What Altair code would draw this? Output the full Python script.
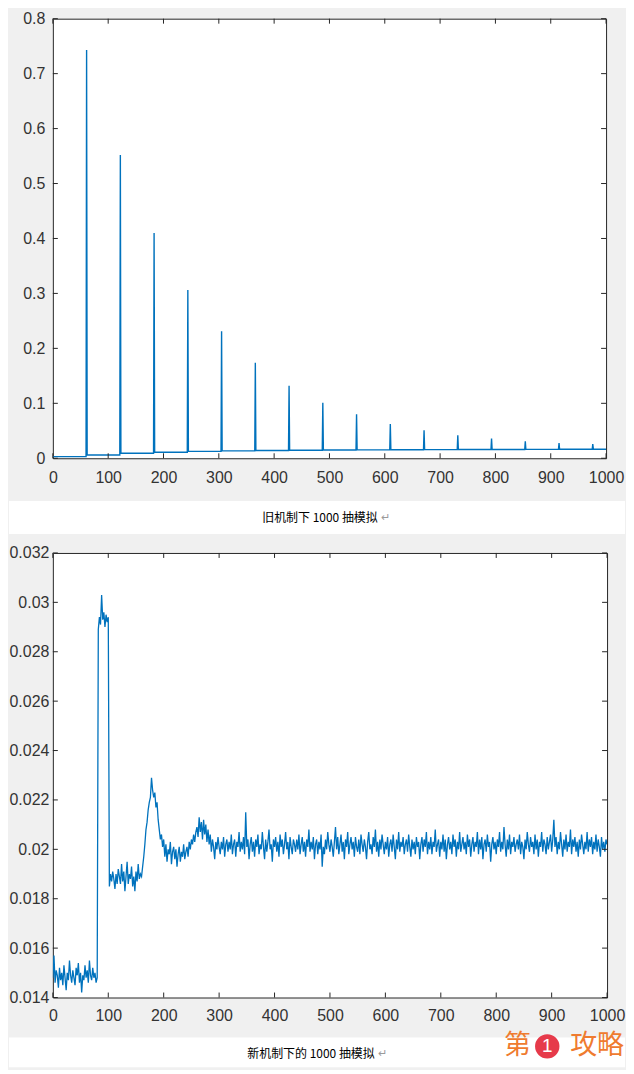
import altair as alt
import pandas as pd

# ---------------- data: old mechanism (top) ----------------
spike_x = [61, 122, 183, 244, 305, 366, 427, 488, 549, 610, 671, 732, 793, 854, 915, 976]
spike_y = [0.743, 0.552, 0.410, 0.306, 0.231, 0.174, 0.132, 0.101, 0.080, 0.0625,
           0.051, 0.042, 0.036, 0.031, 0.0276, 0.026]
base_y = [0.003, 0.006, 0.009, 0.011, 0.0125, 0.0135, 0.014, 0.0145, 0.015, 0.0152,
          0.0155, 0.0157, 0.016, 0.016, 0.0162, 0.0163, 0.0165]

# ---------------- data: new mechanism (bottom), one value every 2 pulls ----------------
new_x = list(range(0, 1001, 2))
new_y = [
    0.0148, 0.0157, 0.0146, 0.0151, 0.0149, 0.0144, 0.0152, 0.0147, 0.0150, 0.0145,
    0.0153, 0.0148, 0.0143, 0.0150, 0.0147, 0.0155, 0.0149, 0.0146, 0.0151, 0.0148,
    0.0145, 0.0152, 0.0149, 0.0154, 0.0146, 0.0150, 0.0142, 0.0149, 0.0147, 0.0153,
    0.0148, 0.0151, 0.0146, 0.0155, 0.0149, 0.0147, 0.0152, 0.0148, 0.0150, 0.0146,
    0.0148, 0.0289, 0.0294, 0.0291, 0.0303, 0.0293, 0.0296, 0.0290, 0.0295, 0.0292,
    0.0294, 0.0185, 0.0190, 0.0187, 0.0191, 0.0188, 0.0184, 0.0190, 0.0186, 0.0192,
    0.0189, 0.0186, 0.0194, 0.0187, 0.0191, 0.0183, 0.0189, 0.0195, 0.0186, 0.0190,
    0.0188, 0.0193, 0.0185, 0.0189, 0.0183, 0.0191, 0.0187, 0.0194, 0.0188, 0.0190,
    0.0189, 0.0193, 0.0197, 0.0202, 0.0208, 0.0211, 0.0216, 0.0219, 0.0221, 0.0229,
    0.0224, 0.0221, 0.0223, 0.0217, 0.0219, 0.0212, 0.0208, 0.0204, 0.0206, 0.0201,
    0.0204, 0.0197, 0.0202, 0.0195, 0.0200, 0.0198, 0.0203, 0.0194, 0.0199, 0.0201,
    0.0196, 0.0200, 0.0193, 0.0198, 0.0201, 0.0195, 0.0199, 0.0197, 0.0202, 0.0196,
    0.0199, 0.0201, 0.0197, 0.0203, 0.0200, 0.0204, 0.0202, 0.0206, 0.0203, 0.0207,
    0.0209, 0.0205, 0.0213, 0.0207, 0.0211, 0.0204, 0.0212, 0.0206, 0.0210, 0.0203,
    0.0208, 0.0202, 0.0206, 0.0199, 0.0204, 0.0201, 0.0196, 0.0203, 0.0200, 0.0205,
    0.0201, 0.0198, 0.0203, 0.0200, 0.0205, 0.0197, 0.0202, 0.0204, 0.0199, 0.0203,
    0.0200, 0.0206, 0.0198, 0.0202, 0.0204, 0.0197, 0.0203, 0.0201, 0.0207, 0.0199,
    0.0203, 0.0200, 0.0205, 0.0198, 0.0215, 0.0201, 0.0204, 0.0196, 0.0202, 0.0205,
    0.0199, 0.0203, 0.0197, 0.0204, 0.0201, 0.0206, 0.0198, 0.0202, 0.0200, 0.0207,
    0.0201, 0.0196, 0.0204, 0.0199, 0.0203, 0.0208, 0.0200, 0.0202, 0.0195, 0.0204,
    0.0201, 0.0205, 0.0199, 0.0203, 0.0197, 0.0206, 0.0201, 0.0204, 0.0198, 0.0202,
    0.0207, 0.0200, 0.0203, 0.0196, 0.0205, 0.0201, 0.0198, 0.0204, 0.0202, 0.0199,
    0.0204, 0.0200, 0.0206, 0.0198, 0.0202, 0.0205, 0.0199, 0.0203, 0.0197, 0.0204,
    0.0201, 0.0208, 0.0199, 0.0203, 0.0200, 0.0205, 0.0196, 0.0202, 0.0204, 0.0198,
    0.0203, 0.0200, 0.0206, 0.0193, 0.0201, 0.0198, 0.0204, 0.0200, 0.0207, 0.0202,
    0.0199, 0.0204, 0.0201, 0.0197, 0.0203, 0.0209, 0.0200, 0.0205, 0.0198, 0.0202,
    0.0206, 0.0199, 0.0203, 0.0196, 0.0204, 0.0201, 0.0207, 0.0198, 0.0202, 0.0205,
    0.0200, 0.0203, 0.0197, 0.0205, 0.0201, 0.0199, 0.0204, 0.0198, 0.0206, 0.0202,
    0.0199, 0.0204, 0.0201, 0.0196, 0.0203, 0.0207, 0.0200, 0.0202, 0.0198, 0.0205,
    0.0201, 0.0208, 0.0199, 0.0203, 0.0197, 0.0204, 0.0200, 0.0206, 0.0202, 0.0198,
    0.0203, 0.0200, 0.0205, 0.0197, 0.0202, 0.0204, 0.0199, 0.0206, 0.0201, 0.0196,
    0.0204, 0.0200, 0.0207, 0.0199, 0.0203, 0.0201, 0.0205, 0.0198, 0.0202, 0.0204,
    0.0199, 0.0206, 0.0201, 0.0197, 0.0204, 0.0200, 0.0203, 0.0198, 0.0205, 0.0201,
    0.0203, 0.0196, 0.0202, 0.0205, 0.0199, 0.0204, 0.0201, 0.0207, 0.0198, 0.0203,
    0.0200, 0.0205, 0.0198, 0.0203, 0.0201, 0.0208, 0.0199, 0.0202, 0.0204, 0.0197,
    0.0203, 0.0200, 0.0206, 0.0199, 0.0204, 0.0196, 0.0202, 0.0205, 0.0200, 0.0203,
    0.0198, 0.0206, 0.0201, 0.0204, 0.0197, 0.0203, 0.0200, 0.0207, 0.0199, 0.0202,
    0.0205, 0.0200, 0.0203, 0.0198, 0.0206, 0.0201, 0.0204, 0.0197, 0.0202, 0.0205,
    0.0199, 0.0203, 0.0201, 0.0207, 0.0198, 0.0204, 0.0200, 0.0205, 0.0196, 0.0202,
    0.0204, 0.0199, 0.0206, 0.0201, 0.0203, 0.0195, 0.0202, 0.0205, 0.0200, 0.0203,
    0.0198, 0.0204, 0.0201, 0.0207, 0.0199, 0.0203, 0.0200, 0.0209, 0.0202, 0.0197,
    0.0204, 0.0200, 0.0206, 0.0198, 0.0203, 0.0201, 0.0205, 0.0199, 0.0202, 0.0204,
    0.0200, 0.0206, 0.0198, 0.0203, 0.0201, 0.0196, 0.0204, 0.0200, 0.0207, 0.0202,
    0.0199, 0.0205, 0.0201, 0.0203, 0.0198, 0.0206, 0.0200, 0.0204, 0.0197, 0.0203,
    0.0201, 0.0207, 0.0199, 0.0204, 0.0202, 0.0198, 0.0205, 0.0200, 0.0203, 0.0206,
    0.0199, 0.0204, 0.0212, 0.0201, 0.0205, 0.0198, 0.0203, 0.0200, 0.0207, 0.0202,
    0.0197, 0.0204, 0.0200, 0.0206, 0.0199, 0.0203, 0.0201, 0.0208, 0.0198, 0.0204,
    0.0201, 0.0205, 0.0199, 0.0203, 0.0197, 0.0204, 0.0200, 0.0206, 0.0202, 0.0198,
    0.0203, 0.0200, 0.0207, 0.0199, 0.0204, 0.0201, 0.0205, 0.0198, 0.0203, 0.0200,
    0.0206, 0.0199, 0.0204, 0.0201, 0.0197, 0.0205, 0.0200, 0.0203, 0.0199, 0.0204,
    0.0202,
]

# ---------------- ticks and texts ----------------
x_ticks = [0, 100, 200, 300, 400, 500, 600, 700, 800, 900, 1000]
top_y_ticks = [0, 0.1, 0.2, 0.3, 0.4, 0.5, 0.6, 0.7, 0.8]
bot_y_ticks = [0.014, 0.016, 0.018, 0.02, 0.022, 0.024, 0.026, 0.028, 0.03, 0.032]
caption_top = "旧机制下 1000 抽模拟"
caption_bot = "新机制下的 1000 抽模拟"
return_mark = "↵"
wm_left, wm_num, wm_right = "第", "1", "攻略"

BLUE = "#0072BD"
AX = "#262626"
CJK = "Noto Sans CJK SC"
ORIGIN = 44  # left extent shared by the stacked panels

# build the step/spike table for the old mechanism
old_pts = [(0, base_y[0])]
for i, sx in enumerate(spike_x):
    old_pts.append((sx - 1, base_y[i]))
    old_pts.append((sx, spike_y[i]))
    old_pts.append((sx + 1, base_y[i + 1]))
old_pts.append((1000, base_y[-1]))
old_df = pd.DataFrame(old_pts, columns=["x", "y"])
new_df = pd.DataFrame({"x": new_x, "y": new_y})


def panel(df, yticks, ydom, W, H, xext, xpad, ypad, sw):
    xs = alt.Scale(domain=[0, 1000], nice=False)
    ys = alt.Scale(domain=ydom, nice=False, zero=False)
    xa = alt.Axis(values=x_ticks, format="d", title=None, labelPadding=xpad,
                  labelBaseline="middle", labelFlush=False,
                  minExtent=xext, maxExtent=xext)
    ya = alt.Axis(values=yticks, format="~g", title=None, labelPadding=ypad,
                  minExtent=ORIGIN, maxExtent=ORIGIN)
    line = alt.Chart(df).mark_line(color=BLUE, strokeWidth=sw, clip=True).encode(
        x=alt.X("x:Q", scale=xs, axis=xa),
        y=alt.Y("y:Q", scale=ys, axis=ya),
    )
    xt = pd.DataFrame({"x": x_ticks})
    yt = pd.DataFrame({"y": yticks})
    xb = alt.Chart(xt).mark_rule(color=AX, strokeWidth=1).encode(
        x=alt.X("x:Q", scale=xs, axis=xa), y=alt.value(H), y2=alt.value(H - 5))
    xtp = alt.Chart(xt).mark_rule(color=AX, strokeWidth=1).encode(
        x=alt.X("x:Q", scale=xs, axis=xa), y=alt.value(0), y2=alt.value(5))
    yl = alt.Chart(yt).mark_rule(color=AX, strokeWidth=1).encode(
        y=alt.Y("y:Q", scale=ys, axis=ya), x=alt.value(0), x2=alt.value(5))
    yr = alt.Chart(yt).mark_rule(color=AX, strokeWidth=1).encode(
        y=alt.Y("y:Q", scale=ys, axis=ya), x=alt.value(W - 5), x2=alt.value(W))
    return alt.layer(line, xb, xtp, yl, yr).properties(width=W, height=H)


one = pd.DataFrame({"a": [0]})

p1 = panel(old_df, top_y_ticks, [0, 0.8], 555, 441, 41, 19, 8, 1.4)
p2 = panel(new_df, bot_y_ticks, [0.014, 0.032], 556, 446, 32, 18, 4, 1.3)

CW = 618 - ORIGIN  # caption panel width to the right of the shared origin

cap1 = alt.layer(
    alt.Chart(one).mark_rect(color="white").encode(
        x=alt.value(-ORIGIN), x2=alt.value(CW), y=alt.value(0), y2=alt.value(33)),
    alt.Chart(one).mark_text(text=caption_top, font=CJK, fontSize=12, color="#000000",
                             align="left", baseline="middle").encode(
        x=alt.value(254 - ORIGIN), y=alt.value(17)),
    alt.Chart(one).mark_text(text=return_mark, font=CJK, fontSize=11, color="#9a9a9a",
                             align="left", baseline="middle").encode(
        x=alt.value(373 - ORIGIN), y=alt.value(17)),
).properties(width=CW - 20, height=42,
             view=alt.ViewBackground(fill="transparent", stroke="transparent"))

cap2 = alt.layer(
    alt.Chart(one).mark_rect(color="white").encode(
        x=alt.value(-ORIGIN), x2=alt.value(CW), y=alt.value(6), y2=alt.value(36)),
    alt.Chart(one).mark_text(text=caption_bot, font=CJK, fontSize=12, color="#000000",
                             align="left", baseline="middle").encode(
        x=alt.value(239 - ORIGIN), y=alt.value(23)),
    alt.Chart(one).mark_text(text=return_mark, font=CJK, fontSize=11, color="#9a9a9a",
                             align="left", baseline="middle").encode(
        x=alt.value(370 - ORIGIN), y=alt.value(23)),
    alt.Chart(one).mark_text(text=wm_left, font=CJK, fontSize=27, color="#ef7b2f",
                             align="center", baseline="middle").encode(
        x=alt.value(510 - ORIGIN), y=alt.value(15)),
    alt.Chart(one).mark_point(filled=True, shape="circle", size=600, color="#e63a4a",
                              opacity=1).encode(
        x=alt.value(540 - ORIGIN), y=alt.value(15)),
    alt.Chart(one).mark_text(text=wm_num, font="Liberation Sans", fontSize=19,
                             color="white", align="center", baseline="middle").encode(
        x=alt.value(540 - ORIGIN), y=alt.value(15)),
    alt.Chart(one).mark_text(text=wm_right, font=CJK, fontSize=27, color="#ef7b2f",
                             align="center", baseline="middle").encode(
        x=alt.value(590 - ORIGIN), y=alt.value(15)),
).properties(width=CW - 20, height=36,
             view=alt.ViewBackground(fill="transparent", stroke="transparent"))

chart = (
    alt.vconcat(p1, cap1, p2, cap2, spacing=0)
    .properties(padding=0, background="#f0f0f0")
    .configure_view(fill="white", stroke=AX, strokeWidth=1)
    .configure_axis(grid=False, domain=False, ticks=False, tickSize=0,
                    labelFont="Liberation Sans", labelFontSize=16, labelColor="#333333")
)

chart.save("out.html", embed_options={"renderer": "svg", "actions": False})
